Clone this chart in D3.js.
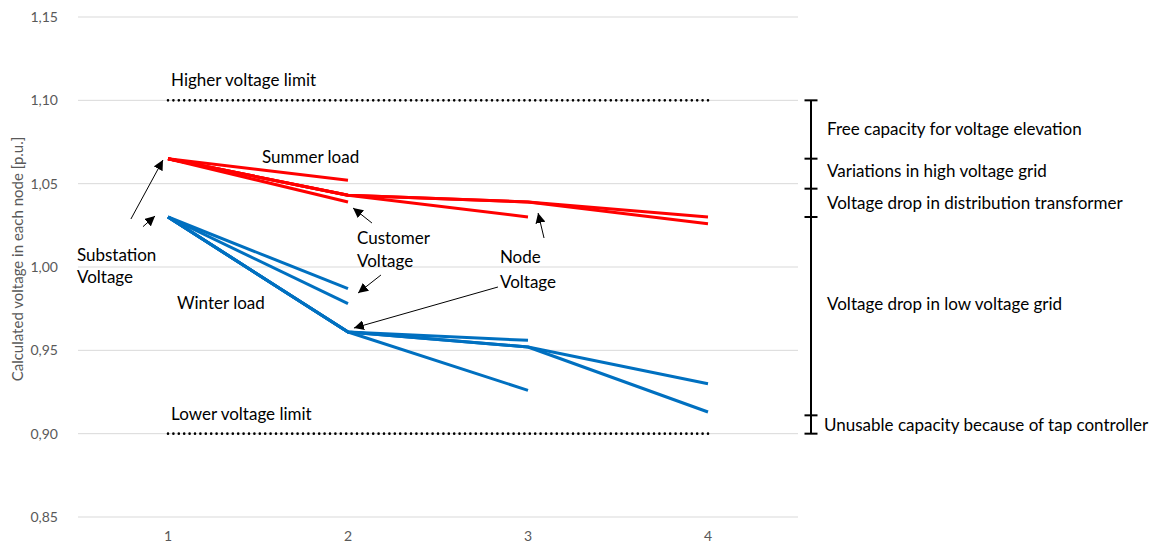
<!DOCTYPE html>
<html><head><meta charset="utf-8">
<script src="https://cdn.jsdelivr.net/npm/d3@7"></script>
<style>body{margin:0;background:#fff}svg{display:block}text{font-family:Lato,"Open Sans",sans-serif}</style>
</head><body><svg id="c" width="1156" height="547"></svg>
<script>
const categories = [1, 2, 3, 4];
const yTicks = [0.85, 0.90, 0.95, 1.00, 1.05, 1.10, 1.15];
const yLabel = "Calculated voltage in each node [p.u.]";

const summerA = [1.065, 1.052];
const summerB = [1.065, 1.039];
const summerC = [1.065, 1.043, 1.030];
const summerD = [1.065, 1.043, 1.039, 1.030];
const summerE = [1.065, 1.043, 1.039, 1.026];

const winterA = [1.030, 0.987];
const winterB = [1.030, 0.978];
const winterC = [1.030, 0.961, 0.956];
const winterD = [1.030, 0.961, 0.926];
const winterE = [1.030, 0.961, 0.952, 0.930];
const winterF = [1.030, 0.961, 0.952, 0.913];

const limitValues = [1.10, 0.90];
const limitLabels = ["Higher voltage limit", "Lower voltage limit"];

const bracketLevels = [1.10, 1.065, 1.047, 1.030, 0.911, 0.90];
const bracketLabels = ["Free capacity for voltage elevation", "Variations in high voltage grid",
  "Voltage drop in distribution transformer", "Voltage drop in low voltage grid",
  "Unusable capacity because of tap controller"];

// annotation texts and arrows (in data units: x = node, y = p.u.)
const noteTexts = [
  {t: "Summer load", x: 1.522, y: 1.066},
  {t: "Substation", x: 0.494, y: 1.0072},
  {t: "Voltage", x: 0.494, y: 0.994},
  {t: "Customer", x: 2.05, y: 1.0174},
  {t: "Voltage", x: 2.05, y: 1.0036},
  {t: "Node", x: 2.844, y: 1.0060},
  {t: "Voltage", x: 2.844, y: 0.9910},
  {t: "Winter load", x: 1.05, y: 0.9784}
];
const arrows = [
  {x1: 0.794, y1: 1.0288, x2: 0.972, y2: 1.0642},
  {x1: 0.861, y1: 1.0242, x2: 0.928, y2: 1.0306},
  {x1: 2.133, y1: 1.0264, x2: 2.028, y2: 1.0354},
  {x1: 2.183, y1: 0.9952, x2: 2.056, y2: 0.9844},
  {x1: 3.089, y1: 1.0174, x2: 3.056, y2: 1.0324},
  {x1: 2.833, y1: 0.988, x2: 2.033, y2: 0.9634}
];

const svg = d3.select("#c");
const x = d3.scaleLinear().domain([0.5, 4.5]).range([78, 798]);
const y = d3.scaleLinear().domain([0.85, 1.15]).range([517, 17]);
const fmt = v => d3.format(".2f")(v).replace(".", ",");

// grid
svg.append("g").selectAll("line").data(yTicks).join("line")
  .attr("x1", x(0.5)).attr("x2", x(4.5))
  .attr("y1", d => y(d)).attr("y2", d => y(d))
  .attr("stroke", "#d9d9d9").attr("stroke-width", 1);

// y axis labels
svg.append("g").selectAll("text").data(yTicks).join("text")
  .attr("x", 58).attr("y", d => y(d)).attr("dy", "0.35em")
  .attr("text-anchor", "end").attr("fill", "#595959").attr("font-size", 14)
  .text(fmt);

// x axis labels
svg.append("g").selectAll("text").data(categories).join("text")
  .attr("x", d => x(d)).attr("y", 536).attr("dy", "0.35em")
  .attr("text-anchor", "middle").attr("fill", "#595959").attr("font-size", 14)
  .text(d => d);

svg.append("text").attr("transform", `translate(23,${y(1.0)-8}) rotate(-90)`)
  .attr("text-anchor", "middle").attr("fill", "#595959").attr("font-size", 15)
  .text(yLabel);

// limits
limitValues.forEach((v, i) => {
  svg.append("line").attr("x1", x(1)).attr("x2", x(4)).attr("y1", y(v)).attr("y2", y(v))
    .attr("stroke", "#000").attr("stroke-width", 2.6).attr("stroke-linecap", "round")
    .attr("stroke-dasharray", "0 5.4");
  svg.append("text").attr("x", x(1.017)).attr("y", y(v) - 20).attr("dy", "0.35em")
    .attr("font-size", 17).attr("fill", "#000").text(limitLabels[i]);
});

const line = d3.line().x((d, i) => x(categories[i])).y(d => y(d));
function drawSeries(arr, color) {
  arr.forEach(s => svg.append("path").attr("d", line(s)).attr("fill", "none")
    .attr("stroke", color).attr("stroke-width", 3).attr("stroke-linejoin", "round"));
}
drawSeries([summerA, summerB, summerC, summerD, summerE], "#ff0000");
drawSeries([winterA, winterB, winterC, winterD, winterE, winterF], "#0070c0");

// arrows
const defs = svg.append("defs");
defs.append("marker").attr("id", "ah").attr("viewBox", "0 0 10 10")
  .attr("refX", 10).attr("refY", 5).attr("markerWidth", 10).attr("markerHeight", 10)
  .attr("markerUnits", "userSpaceOnUse").attr("orient", "auto")
  .append("path").attr("d", "M0,0 L10,5 L0,10 Z").attr("fill", "#000");
svg.append("g").selectAll("line").data(arrows).join("line")
  .attr("x1", d => x(d.x1)).attr("y1", d => y(d.y1))
  .attr("x2", d => x(d.x2)).attr("y2", d => y(d.y2))
  .attr("stroke", "#000").attr("stroke-width", 1).attr("marker-end", "url(#ah)");

svg.append("g").selectAll("text").data(noteTexts).join("text")
  .attr("x", d => x(d.x)).attr("y", d => y(d.y)).attr("dy", "0.35em")
  .attr("font-size", 17).attr("fill", "#000").text(d => d.t);

// brackets
const bx = 811;
svg.append("line").attr("x1", bx).attr("x2", bx)
  .attr("y1", y(bracketLevels[0])).attr("y2", y(bracketLevels[bracketLevels.length - 1]))
  .attr("stroke", "#000").attr("stroke-width", 2);
svg.append("g").selectAll("line").data(bracketLevels).join("line")
  .attr("x1", bx - 6.5).attr("x2", bx + 6.5).attr("y1", d => y(d)).attr("y2", d => y(d))
  .attr("stroke", "#000").attr("stroke-width", 2);
const bracketTextY = [1.0826, 1.0574, 1.0382, 0.978, 0.9054];
svg.append("g").selectAll("text").data(bracketLabels).join("text")
  .attr("x", (d, i) => i === 4 ? 824 : 827).attr("y", (d, i) => y(bracketTextY[i])).attr("dy", "0.35em")
  .attr("font-size", 17).attr("fill", "#000").text(d => d);
</script></body></html>
